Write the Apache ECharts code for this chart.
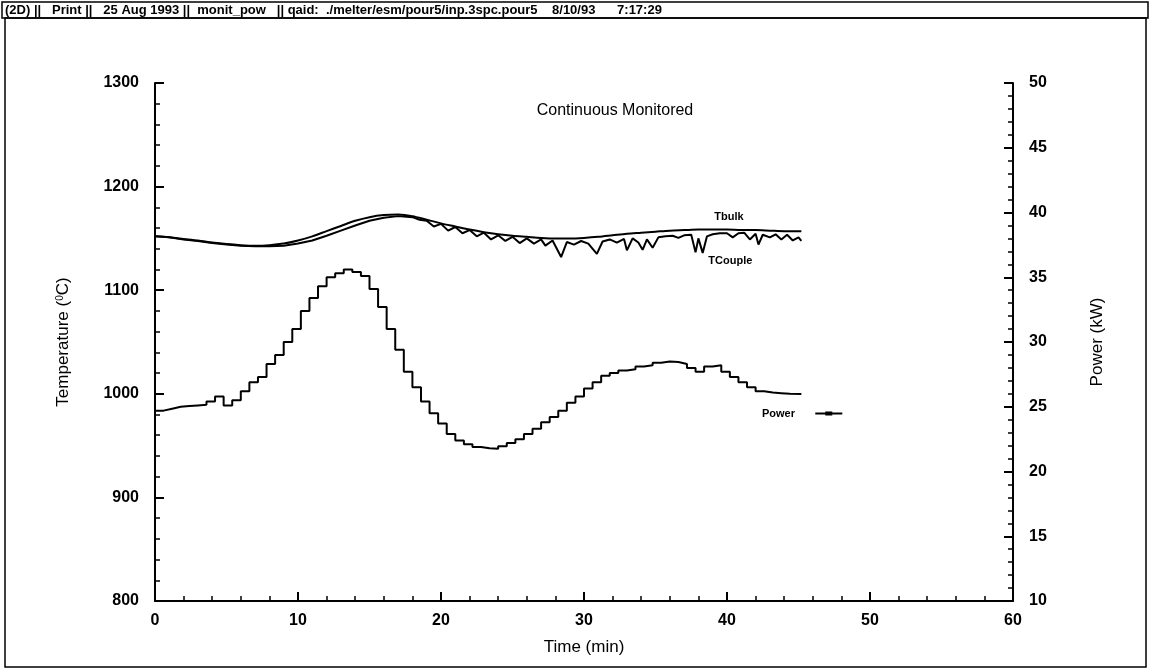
<!DOCTYPE html>
<html>
<head>
<meta charset="utf-8">
<script src="https://cdn.jsdelivr.net/npm/echarts@6/dist/echarts.min.js"></script>
<style>
html,body{margin:0;padding:0;background:#fff;}
#chart{width:1150px;height:671px;}
</style>
</head>
<body>
<div id="chart"></div>
<script>
// ---- Data ----
const headerText = '(2D) ||   Print ||   25 Aug 1993 ||  monit_pow   || qaid:  ./melter/esm/pour5/inp.3spc.pour5    8/10/93      7:17:29';
const titleText = 'Continuous Monitored';

const bulkTime = [0,1,2,3,4,5,6,7,8,9,10,11,12,13,14,15,16,17,18,19,20,21,22,23,24,25,26,27,28,29,30,31,32,33,34,35,36,37,38,39,40,41,42,43,44,45.2];
const bulkVals = [1152,1151,1149.5,1148,1146,1144.5,1143.5,1143,1143.5,1145,1148,1152,1157,1162,1167,1170.5,1172.5,1173,1171.5,1168,1164.5,1161.5,1158.5,1156,1154,1152.5,1151.5,1150.5,1150,1150,1150.5,1151.5,1153,1154.5,1155.5,1156.5,1157.5,1158,1158.5,1158.5,1158.5,1158,1158,1157.5,1157,1157];

const coupleTime = [0,1,2,3,4,5,6,7,8,9,10,11,12,13,14,15,16,17,18,18.5,19,19.5,20,20.5,21,21.5,22,22.5,23,23.5,24,24.5,25,25.5,26,26.5,27,27.3,27.8,28.4,28.8,29.3,29.8,30.3,30.9,31.3,31.8,32.3,32.8,33,33.4,33.8,34.1,34.4,34.8,35.2,35.7,36.2,36.6,37,37.5,37.8,38,38.3,38.6,39,39.5,40,40.4,40.8,41.2,41.6,42,42.2,42.5,43,43.4,43.8,44.2,44.6,45,45.2];
const coupleVals = [1152,1151,1149,1147.5,1145.5,1144,1143,1142.5,1142.5,1143,1145,1148,1152.5,1157.5,1162.5,1167,1170,1171.5,1170.5,1168,1167,1161.5,1164,1157.5,1161,1155,1158,1152,1155.5,1149,1153,1147.5,1151.5,1145.5,1150,1145,1149,1143,1148,1132,1146.5,1144,1147.5,1145,1135,1147,1149,1146,1149.5,1138.5,1150,1146,1139,1149,1141,1151,1152,1152.5,1150.5,1153,1153.5,1136.5,1150,1136,1152,1154,1155,1155,1151,1155,1155.5,1149,1154.5,1144,1153.5,1151,1154,1149,1153.5,1148,1151,1147.5];

const powerTime = [0,0.6,1.2,1.8,2.4,3,3.6,4.2,4.8,5.4,6,6.6,7.2,7.8,8.4,9,9.6,10.2,10.8,11.4,12,12.6,13.2,13.8,14.4,15,15.6,16.2,16.8,17.4,18,18.6,19.2,19.8,20.4,21,21.6,22.2,22.8,23.4,24,24.6,25.2,25.8,26.4,27,27.6,28.2,28.8,29.4,30,30.6,31.2,31.8,32.4,33,33.6,34.2,34.8,35.4,36,36.6,37.2,37.8,38.4,39,39.6,40.2,40.8,41.4,42,42.6,43.2,43.8,44.4,45.2];
const powerVals = [24.7,24.85,25,25.05,25.1,25.15,25.4,25.8,25.1,25.5,26.2,26.9,27.3,28.3,29,30,31,32.4,33.4,34.3,35,35.3,35.6,35.4,35.1,34.1,32.7,31,29.4,27.7,26.5,25.4,24.5,23.7,22.9,22.4,22.1,21.9,21.8,21.75,21.95,22.2,22.5,22.9,23.3,23.8,24.2,24.7,25.3,25.8,26.4,26.9,27.4,27.6,27.8,27.9,28.1,28.2,28.4,28.5,28.45,28.3,28,27.7,28.1,28.2,27.7,27.3,26.9,26.5,26.2,26.1,26.05,26,25.98,25.98];

const seriesNames = ['Tbulk','TCouple','Power'];

// ---- Build ----
const pairs = (xs, ys) => xs.map((x, i) => [x, ys[i]]);
const FONT = 'Liberation Sans, Arial, Helvetica, sans-serif';
const chart = echarts.init(document.getElementById('chart'), null, {renderer:'canvas'});

const labelStyle = {color:'#000', fontFamily:FONT, fontSize:16, fontWeight:'bold', formatter:(v)=>String(v)};
const axisCommon = {
  axisLine:{show:true, lineStyle:{color:'#000', width:2}},
  axisTick:{show:true, inside:true, length:9, lineStyle:{color:'#000', width:2}},
  minorTick:{show:true, splitNumber:5, length:5, lineStyle:{color:'#000', width:1.5}},
  splitLine:{show:false},
  nameTextStyle:{color:'#000', fontFamily:FONT, fontSize:17}
};

chart.setOption({
  backgroundColor:'#fff',
  animation:false,
  title:{
    text:titleText, left:610, top:98, textAlign:'center',
    textStyle:{fontFamily:FONT, fontSize:16, fontWeight:'normal', color:'#000'}
  },
  legend:{
    data:[seriesNames[2]], left:757, top:403, align:'right',
    itemWidth:27, itemHeight:6, itemGap:0,
    icon:'path://M0,2 L27,2 L27,4 L0,4 Z M10,1 L17,1 L17,5 L10,5 Z',
    formatter:(n)=> n + '     ',
    textStyle:{fontFamily:FONT, fontSize:11, fontWeight:'bold', color:'#000'}
  },
  grid:{left:155, right:137, top:83, bottom:70},
  xAxis:Object.assign({}, axisCommon, {
    type:'value', min:0, max:60, interval:10,
    name:'Time (min)', nameLocation:'middle', nameGap:38,
    axisLabel:Object.assign({}, labelStyle, {margin:12})
  }),
  yAxis:[
    Object.assign({}, axisCommon, {
      type:'value', min:800, max:1300, interval:100, position:'left',
      name:'Temperature ({sup|0}C)', nameLocation:'middle', nameGap:83, nameRotate:90,
      nameTextStyle:{color:'#000', fontFamily:FONT, fontSize:17,
        rich:{sup:{fontSize:10, fontFamily:FONT, color:'#000', verticalAlign:'top'}}},
      axisLabel:Object.assign({}, labelStyle, {margin:16})
    }),
    Object.assign({}, axisCommon, {
      type:'value', min:10, max:50, interval:5, position:'right',
      name:'Power (kW)', nameLocation:'middle', nameGap:76, nameRotate:90,
      axisLabel:Object.assign({}, labelStyle, {margin:16})
    })
  ],
  graphic:[
    {type:'rect', shape:{x:2, y:2, width:1146, height:16}, style:{fill:'none', stroke:'#000', lineWidth:1.5}, z:10},
    {type:'rect', shape:{x:5, y:18, width:1141, height:649}, style:{fill:'none', stroke:'#000', lineWidth:1.5}, z:10},
    {type:'text', left:5, top:4, style:{text:headerText, fontFamily:FONT, fontSize:13, fontWeight:'bold', fill:'#000'}, z:11}
  ],
  series:[
    {
      name:seriesNames[0], type:'line', yAxisIndex:0, data:pairs(bulkTime, bulkVals),
      showSymbol:false, symbol:'none', smooth:0.3, lineStyle:{color:'#000', width:2},
      endLabel:{show:true, formatter:'Tbulk', offset:[-95,-14], fontFamily:FONT, fontSize:11, fontWeight:'bold', color:'#000'}
    },
    {
      name:seriesNames[1], type:'line', yAxisIndex:0, data:pairs(coupleTime, coupleVals),
      showSymbol:false, symbol:'none', lineStyle:{color:'#000', width:2},
      endLabel:{show:true, formatter:'TCouple', offset:[-101,20], fontFamily:FONT, fontSize:11, fontWeight:'bold', color:'#000'}
    },
    {
      name:seriesNames[2], type:'line', yAxisIndex:1, data:pairs(powerTime, powerVals),
      showSymbol:false, symbol:'none', step:'end', lineStyle:{color:'#000', width:2}, itemStyle:{color:'#000'}
    }
  ]
});
</script>
</body>
</html>
